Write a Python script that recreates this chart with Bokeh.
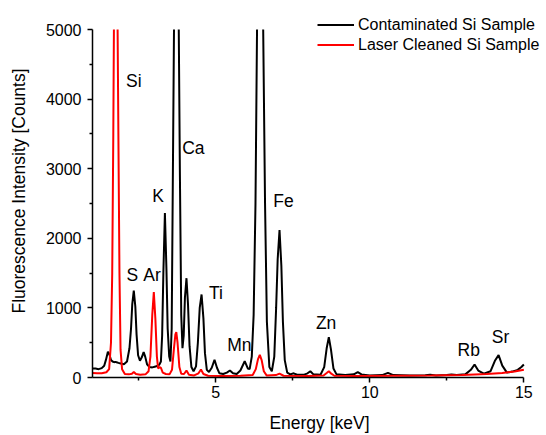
from bokeh.plotting import figure
from bokeh.models import Legend, LegendItem, FixedTicker, Range1d
from bokeh.embed import file_html
from bokeh.resources import INLINE
from bokeh.core.properties import value

# ---- data ----
series_names = ["Contaminated Si Sample", "Laser Cleaned Si Sample"]

# Peaks that run off the top of the chart (Si, Ca, Fe) are given an apex just above
# the 5000-count limit: their real height cannot be read from the picture.
energy_contaminated = [
    1.00, 1.10, 1.20, 1.30, 1.38, 1.44, 1.50, 1.55, 1.60, 1.65, 1.70, 1.74, 1.78, 1.84, 1.92,
    2.02, 2.12, 2.20, 2.25, 2.29, 2.34, 2.39, 2.43, 2.48, 2.54, 2.60, 2.66, 2.71, 2.77, 2.85,
    2.94, 3.02, 3.10, 3.17, 3.22, 3.26, 3.30, 3.35, 3.40, 3.44, 3.49, 3.53, 3.57, 3.61, 3.645,
    3.73, 3.80, 3.835, 3.88, 3.92, 3.96, 4.00, 4.05, 4.10, 4.15, 4.21, 4.28, 4.36, 4.42, 4.48,
    4.54, 4.60, 4.65, 4.71, 4.78, 4.87, 4.96, 5.04, 5.12, 5.24, 5.36, 5.46, 5.56, 5.68, 5.80,
    5.94, 6.04, 6.10, 6.17, 6.23, 6.29, 6.34, 6.44, 6.54, 6.60, 6.66, 6.74, 6.82, 6.90, 6.96,
    7.01, 7.07, 7.13, 7.18, 7.24, 7.32, 7.42, 7.53, 7.64, 7.85, 7.98, 8.07, 8.17, 8.40, 8.52,
    8.60, 8.67, 8.74, 8.82, 8.92, 9.20, 9.48, 9.61, 9.73, 10.00, 10.40, 10.59, 10.76, 11.30, 11.80,
    11.96, 12.15, 12.50, 12.65, 12.82, 13.10, 13.28, 13.40, 13.52, 13.70, 13.92, 14.06, 14.18, 14.30, 14.45,
    14.62, 14.80, 14.92, 15.00,
]
counts_contaminated = [
    130, 128, 120, 135, 170, 260, 370, 330, 250, 230, 220, 225, 220, 210, 200,
    190, 230, 420, 700, 1050, 1250, 1020, 620, 320, 240, 290, 364, 300, 190, 150,
    145, 155, 165, 185, 230, 600, 1500, 2365, 1550, 700, 300, 230, 700, 3000, 5000,
    5300, 5000, 3000, 900, 420, 600, 1150, 1427, 1050, 450, 150, 90, 160, 500, 1000,
    1193, 850, 350, 110, 80, 140, 254, 140, 60, 50, 70, 100, 60, 50, 100,
    234, 130, 120, 300, 900, 2500, 5000, 5300, 5000, 2500, 800, 150, 90, 300, 1000,
    1700, 2120, 1600, 800, 250, 70, 45, 60, 40, 38, 60, 90, 45, 40, 150,
    420, 580, 400, 130, 45, 35, 45, 77, 45, 30, 35, 67, 35, 30, 32,
    40, 30, 35, 42, 35, 45, 110, 187, 100, 55, 90, 240, 321, 170, 70,
    85, 110, 150, 187,
]

energy_cleaned = [
    1.00, 1.15, 1.30, 1.45, 1.54, 1.60, 1.64, 1.675, 1.695, 1.755, 1.815, 1.84, 1.875, 1.91, 1.96,
    2.05, 2.18, 2.28, 2.34, 2.41, 2.55, 2.72, 2.82, 2.88, 2.94, 2.99, 3.04, 3.09, 3.13, 3.18,
    3.22, 3.28, 3.38, 3.50, 3.58, 3.64, 3.69, 3.72, 3.76, 3.82, 3.88, 3.97, 4.05, 4.13, 4.30,
    4.44, 4.52, 4.60, 4.75, 5.20, 5.80, 6.20, 6.30, 6.37, 6.43, 6.49, 6.56, 6.65, 6.95, 7.07,
    7.20, 8.00, 8.50, 8.60, 8.67, 8.75, 8.85, 9.50, 11.00, 12.00, 13.00, 13.80, 14.30, 14.70, 15.00,
]
counts_cleaned = [
    65, 60, 62, 75, 120, 500, 1500, 3500, 5000, 5300, 5000, 3500, 1500, 400, 120,
    50, 45, 55, 80, 50, 40, 45, 90, 300, 900, 1226, 850, 300, 130, 150,
    140, 70, 50, 45, 110, 400, 620, 651, 500, 150, 55, 50, 100, 40, 30,
    60, 115, 50, 25, 20, 25, 35, 120, 260, 326, 250, 90, 30, 35, 55,
    25, 22, 30, 65, 90, 55, 25, 22, 25, 28, 35, 50, 65, 85, 110,
]

element_labels = ["Si", "Ca", "K", "Fe", "S", "Ar", "Ti", "Mn", "Zn", "Rb", "Sr"]
label_energy = [2.09, 3.91, 2.94, 6.87, 2.10, 2.65, 4.78, 5.37, 8.25, 12.85, 13.96]
label_counts = [4267, 3295, 2605, 2543, 1466, 1466, 1211, 460, 780, 398, 589]

x_limits = (1, 15)
y_limits = (0, 5000)
x_major_ticks = [5, 10, 15]
x_minor_ticks = [2.5, 7.5, 12.5]
y_major_ticks = [0, 1000, 2000, 3000, 4000, 5000]
y_minor_ticks = [500, 1500, 2500, 3500, 4500]

FONT = "Liberation Sans"

# The frame extends above the y limit / right of the x limit so the legend (which
# sits partly above the axes box) is not clipped; axes are bounded to the real
# limits and the region above the y limit is masked with a white quad.
p = figure(width=546, height=435, output_backend="svg", toolbar_location=None,
           x_range=Range1d(1, 15.735), y_range=Range1d(0, 5360),
           min_border_left=92, min_border_right=0, min_border_top=4, min_border_bottom=58,
           x_axis_label="Energy [keV]", y_axis_label="Fluorescence Intensity [Counts]")
p.outline_line_color = None
p.xgrid.visible = False
p.ygrid.visible = False
p.background_fill_color = "white"
p.border_fill_color = "white"

r1 = p.line(energy_contaminated, counts_contaminated, line_color="black", line_width=2)
r2 = p.line(energy_cleaned, counts_cleaned, line_color="#ff0000", line_width=2)

# white mask over everything above the y limit (drawn after the curves)
p.quad(left=[x_limits[0] - 5], right=[x_limits[1] + 5], bottom=[y_limits[1]], top=[y_limits[1] * 100],
       fill_color="white", fill_alpha=1.0, line_color=None)

p.text(x=label_energy, y=label_counts, text=element_labels,
       text_font=value(FONT), text_font_size="17.5px", text_align="left",
       text_baseline="middle", text_color="black")

for ax in (p.xaxis[0], p.yaxis[0]):
    ax.axis_line_width = 1.5
    ax.axis_line_color = "black"
    ax.major_tick_line_color = "black"
    ax.minor_tick_line_color = "black"
    ax.major_tick_line_width = 1.5
    ax.minor_tick_line_width = 1.5
    ax.major_tick_in = 0
    ax.major_tick_out = 5
    ax.minor_tick_in = 0
    ax.minor_tick_out = 3
    ax.major_label_text_font = FONT
    ax.major_label_text_font_size = "16px"
    ax.major_label_text_color = "black"
    ax.axis_label_text_font = FONT
    ax.axis_label_text_font_size = "17.5px"
    ax.axis_label_text_font_style = "normal"
    ax.axis_label_text_color = "black"

p.xaxis[0].bounds = x_limits
p.yaxis[0].bounds = y_limits
p.xaxis[0].ticker = FixedTicker(ticks=x_major_ticks, minor_ticks=x_minor_ticks)
p.yaxis[0].ticker = FixedTicker(ticks=y_major_ticks, minor_ticks=y_minor_ticks)
p.xaxis[0].major_label_standoff = 3
p.xaxis[0].axis_label_standoff = 12
p.yaxis[0].major_label_standoff = 6
p.yaxis[0].axis_label_standoff = 14

legend = Legend(items=[LegendItem(label=series_names[0], renderers=[r1]),
                       LegendItem(label=series_names[1], renderers=[r2])],
                location=(225, 323.5), orientation="vertical",
                border_line_color=None, background_fill_alpha=0,
                label_text_font=FONT, label_text_font_size="16px", label_text_color="black",
                glyph_width=37, glyph_height=17, label_height=17, spacing=2,
                padding=2, margin=0, label_standoff=4)
p.add_layout(legend)

open("out.html", "w").write(file_html(p, INLINE))
